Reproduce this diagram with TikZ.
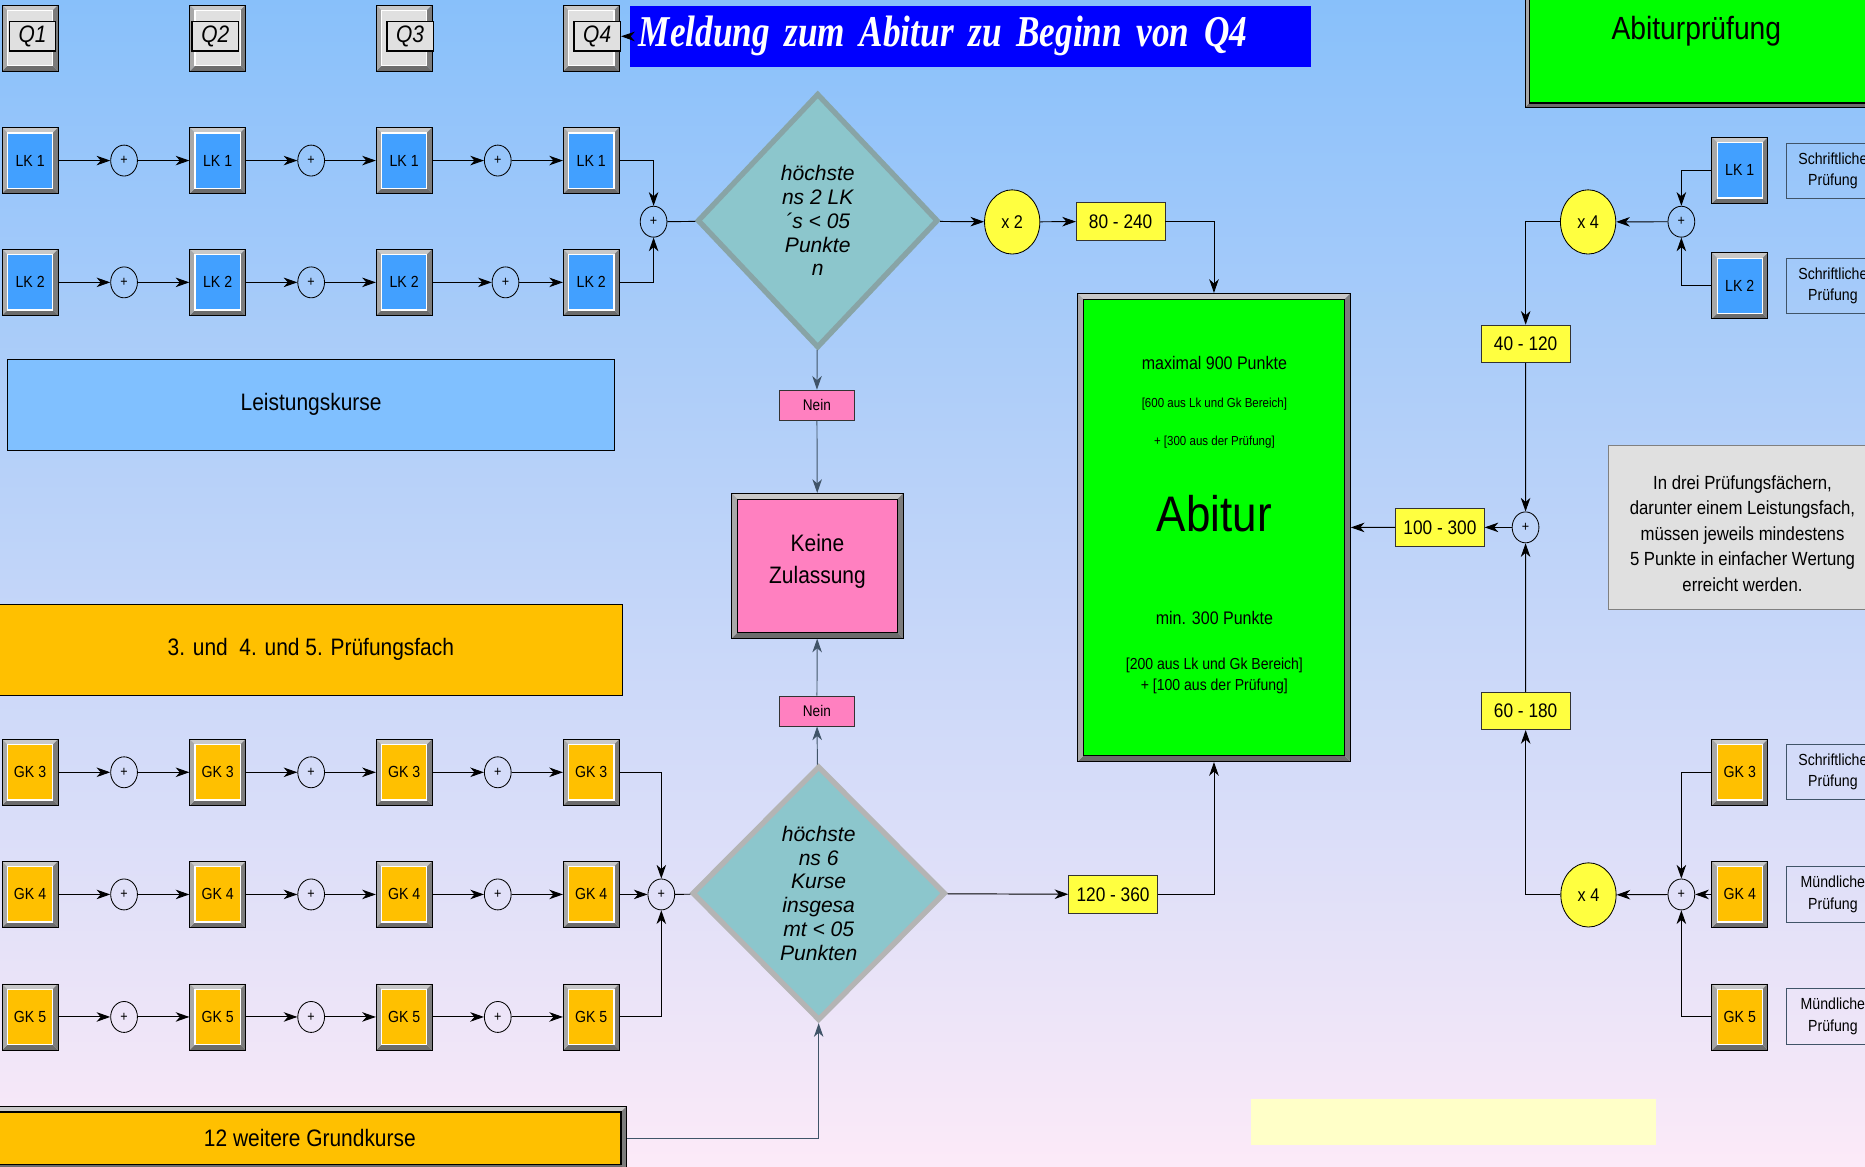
\documentclass[tikz,border=0pt]{standalone}
\usepackage{fontspec}
\setmainfont[FakeStretch=0.88]{Liberation Sans}
\newfontfamily\plainsans{Liberation Sans}
\newfontfamily\titlefont[FakeStretch=0.8]{Liberation Serif}
\usetikzlibrary{shapes.geometric,arrows.meta}

\definecolor{bgtop}{HTML}{88C0FA}
\definecolor{bgmid}{HTML}{BDD3EF}
\definecolor{bgbot}{HTML}{FCEAF8}
\definecolor{lkblue}{HTML}{42A0FF}
\definecolor{gkorange}{HTML}{FFC000}
\definecolor{lkband}{HTML}{80C0FF}
\definecolor{abigreen}{HTML}{00FF00}
\definecolor{pinkbox}{HTML}{FF80C0}
\definecolor{yel}{HTML}{FFFF40}
\definecolor{diamteal}{HTML}{8CC6CC}
\definecolor{diamedgeA}{HTML}{88A4A6}
\definecolor{diamedgeB}{HTML}{B4B4B4}
\definecolor{notegrey}{HTML}{E0E0E0}
\definecolor{paleyel}{HTML}{FFFFC8}
\definecolor{titleblue}{HTML}{0000FF}
\definecolor{bevT}{HTML}{C8C8C8}
\definecolor{bevL}{HTML}{A8A8A8}
\definecolor{bevR}{HTML}{7C7C7C}
\definecolor{bevB}{HTML}{6C6C6C}
\definecolor{qgrey}{HTML}{E0E0E0}
\definecolor{slate}{HTML}{405468}

\tikzset{
  bevel/.style n args={3}{draw=black, line width=0.6pt, inner sep=0pt, path picture={
    \fill[bevT] (path picture bounding box.north west) -- (path picture bounding box.north east)
       -- ([shift={(-#2,-#2)}]path picture bounding box.north east) -- ([shift={(#2,-#2)}]path picture bounding box.north west) -- cycle;
    \fill[bevB] (path picture bounding box.south west) -- (path picture bounding box.south east)
       -- ([shift={(-#2,#2)}]path picture bounding box.south east) -- ([shift={(#2,#2)}]path picture bounding box.south west) -- cycle;
    \fill[bevL] (path picture bounding box.north west) -- ([shift={(#2,-#2)}]path picture bounding box.north west)
       -- ([shift={(#2,#2)}]path picture bounding box.south west) -- (path picture bounding box.south west) -- cycle;
    \fill[bevR] (path picture bounding box.north east) -- ([shift={(-#2,-#2)}]path picture bounding box.north east)
       -- ([shift={(-#2,#2)}]path picture bounding box.south east) -- (path picture bounding box.south east) -- cycle;
    \filldraw[fill=#1, draw=#3, line width=1.1pt] ([shift={(#2,#2)}]path picture bounding box.south west)
       rectangle ([shift={(-#2,-#2)}]path picture bounding box.north east);
  }},
  smallbox/.style={minimum width=47pt, minimum height=55.5pt, font=\fontsize{13.5}{16}\selectfont},
  qlabel/.style={rectangle, draw=black, line width=1.2pt, fill=qgrey, minimum width=39pt, minimum height=25pt, inner sep=0pt, font=\fontsize{20}{22}\selectfont\itshape},
  sumc/.style={ellipse, draw=black, line width=0.7pt, minimum width=22.5pt, minimum height=26pt, inner sep=0pt, font=\fontsize{12}{13}\selectfont},
  mult/.style={ellipse, draw=black, line width=0.7pt, fill=yel, minimum width=46.5pt, minimum height=54pt, inner sep=0pt, font=\fontsize{15.5}{18}\selectfont},
  valbox/.style={rectangle, draw=black!80, line width=0.7pt, fill=yel, minimum width=74.5pt, minimum height=31.3pt, inner sep=0pt, font=\fontsize{16.5}{19}\selectfont},
  nein/.style={rectangle, draw=black!80, line width=0.7pt, fill=pinkbox, minimum width=63.8pt, minimum height=25.3pt, inner sep=0pt, font=\fontsize{13}{15}\selectfont},
  exambox/.style={rectangle, draw=slate, line width=0.7pt, minimum width=78pt, minimum height=46.5pt, inner sep=0pt, align=center, font=\fontsize{13.5}{18}\selectfont},
  band/.style={rectangle, draw=black, line width=0.8pt, inner sep=0pt, font=\fontsize{20}{24}\selectfont},
  diam/.style={diamond, fill=diamteal, line width=4.5pt, inner sep=0pt, align=center, font=\plainsans\fontsize{17.7}{20}\selectfont\itshape},
  arr/.style={-{Stealth[length=11.5pt,width=8pt,inset=3.5pt]}, line width=0.8pt},
  ln/.style={line width=0.8pt},
}

\begin{document}
\begin{tikzpicture}[x=1pt,y=-1pt]
\useasboundingbox (0,0) rectangle (1568,981);
\clip (0,0) rectangle (1568,981);
\shade[top color=bgtop, middle color=bgmid, bottom color=bgbot] (0,0) rectangle (1568,981);

% ---------- Q header ----------
\foreach \i/\x/\dx in {1/25.3/2, 2/183/-2, 3/339.8/5, 4/497.1/5} {
  \node[smallbox, bevel={qgrey}{4.5pt}{white}] (q\i) at (\x,32) {};
  \node[qlabel] (ql\i) at ({\x+(\dx)},30.5) {Q\i};
}

% ---------- title ----------
\node[rectangle, fill=titleblue, minimum width=572.5pt, minimum height=51pt, inner xsep=7pt, inner ysep=0pt,
      text width=558pt, align=left, text=white, font=\titlefont\fontsize{37}{40}\selectfont\bfseries\itshape]
      (title) at (816.05,30.6) {Meldung zum Abitur zu Beginn von Q4};
\draw[arr] (title.west) -- (ql4.east);

% ---------- left course rows ----------
\foreach \r/\y/\col/\lab/\xc in {lk1/135/lkblue/LK 1/418.5, lk2/237.4/lkblue/LK 2/425,
    gk3/649.3/gkorange/GK 3/418.5, gk4/752/gkorange/GK 4/418.5, gk5/855/gkorange/GK 5/418.5} {
  \foreach \c/\x in {1/25.3, 2/183, 3/339.8, 4/497.1}
    \node[smallbox, bevel={\col}{4.5pt}{white}] (\r-\c) at (\x,\y) {\lab};
  \node[sumc] (\r-s1) at (104.3,\y) {+};
  \node[sumc] (\r-s2) at (261.6,\y) {+};
  \node[sumc] (\r-s3) at (\xc,\y) {+};
  \draw[arr] (\r-1) -- (\r-s1);
  \draw[arr] (\r-s1) -- (\r-2);
  \draw[arr] (\r-2) -- (\r-s2);
  \draw[arr] (\r-s2) -- (\r-3);
  \draw[arr] (\r-3) -- (\r-s3);
  \draw[arr] (\r-s3) -- (\r-4);
}

\node[sumc] (sumLK) at (549.5,186.4) {+};
\node[sumc] (sumGK) at (556,752) {+};
\draw[arr] (lk1-4.east) -| (sumLK.north);
\draw[arr] (lk2-4.east) -| (sumLK.south);
\draw[arr] (gk3-4.east) -| (sumGK.north);
\draw[arr] (gk4-4) -- (sumGK);
\draw[arr] (gk5-4.east) -| (sumGK.south);

% ---------- bands ----------
\node[band, fill=lkband, minimum width=510.7pt, minimum height=76.3pt] (lkbandbox) at (261.55,340.25) {Leistungskurse};
\node[band, fill=gkorange, minimum width=524.7pt, minimum height=76.2pt] (pfband) at (261.35,546.2) {3. und\ \ 4. und 5. Prüfungsfach};
\node[bevel={gkorange}{5pt}{black}, minimum width=533pt, minimum height=54pt, font=\fontsize{20}{24}\selectfont] (weitere) at (260.5,957) {12 weitere Grundkurse};

% ---------- diamonds ----------
\node[diam, draw=diamedgeA, minimum width=202.5pt, minimum height=214pt] (d1) at (687.5,185.5)
  {höchste\\ns 2 LK\\´s < 05\\Punkte\\n};
\node[diam, draw=diamedgeB, minimum width=213pt, minimum height=214pt] (d2) at (688.3,751)
  {höchste\\ns 6\\Kurse\\insgesa\\mt < 05\\Punkten};
\draw[ln] (sumLK) -- (d1);
\draw[ln] (sumGK) -- (d2);

% ---------- Nein / Keine Zulassung ----------
\node[nein] (nein1) at (686.8,340.6) {Nein};
\node[nein] (nein2) at (686.8,597.8) {Nein};
\node[bevel={pinkbox}{5pt}{black}, minimum width=144.3pt, minimum height=121.9pt] (keine) at (687.3,475.7) {};
\node[align=center, font=\fontsize{20}{26.6}\selectfont] (keinetext) at (687.3,472) {Keine\\Zulassung};
\draw[arr, draw=slate] (d1) -- (nein1);
\draw[arr, draw=slate] (nein1) -- (keine);
\draw[arr, draw=slate] (d2) -- (nein2);
\draw[arr, draw=slate] (nein2) -- (keine);
\draw[arr, draw=slate] (weitere.east) -| (d2.south);

% ---------- multipliers and values (centre) ----------
\node[mult] (x2) at (851,186.6) {x 2};
\node[valbox] (v80) at (942.2,186.1) {80 - 240};
\node[valbox] (v120) at (935.8,752) {120 - 360};

% ---------- Abitur ----------
\node[bevel={abigreen}{5pt}{black}, minimum width=229.5pt, minimum height=393.8pt] (abitur) at (1020.65,443.5) {};
\node[font=\fontsize{15.3}{18}\selectfont] (abt1) at (1021,305.5) {maximal 900 Punkte};
\node[font=\fontsize{11}{13}\selectfont] (abt2) at (1021,340) {[600 aus Lk und Gk Bereich]};
\node[font=\fontsize{11}{13}\selectfont] (abt3) at (1021,371.3) {+ [300 aus der Prüfung]};
\node[font=\fontsize{42}{46}\selectfont] (abt4) at (1021,431.6) {Abitur};
\node[font=\fontsize{15.3}{18}\selectfont] (abt5) at (1021,519.9) {min. 300 Punkte};
\node[font=\fontsize{13.4}{16}\selectfont] (abt6) at (1021,559.7) {[200 aus Lk und Gk Bereich]};
\node[font=\fontsize{13.4}{16}\selectfont] (abt7) at (1021,577.3) {+ [100 aus der Prüfung]};

\draw[arr] (d1) -- (x2);
\draw[arr] (x2) -- (v80);
\draw[arr] (v80.east) -| (abitur.north);
\draw[arr] (d2) -- (v120);
\draw[arr] (v120.east) -| (abitur.south);

% ---------- Abiturprüfung ----------
\node[bevel={abigreen}{3.5pt}{black}, minimum width=297.7pt, minimum height=100.2pt] (abipbox) at (1431.15,40.1) {};
\node[font=\fontsize{27}{30}\selectfont] (abiptext) at (1426.2,26.6) {Abiturprüfung};

% ---------- right side ----------
\node[smallbox, bevel={lkblue}{4.5pt}{white}] (rlk1) at (1462.7,143.2) {LK 1};
\node[smallbox, bevel={lkblue}{4.5pt}{white}] (rlk2) at (1462.7,240.3) {LK 2};
\node[smallbox, bevel={gkorange}{4.5pt}{white}] (rgk3) at (1462.7,649.3) {GK 3};
\node[smallbox, bevel={gkorange}{4.5pt}{white}] (rgk4) at (1462.7,752) {GK 4};
\node[smallbox, bevel={gkorange}{4.5pt}{white}] (rgk5) at (1462.7,855) {GK 5};

\node[exambox] (e1) at (1541,143.6) {Schriftliche\\Prüfung};
\node[exambox] (e2) at (1541,240.3) {Schriftliche\\Prüfung};
\node[exambox] (e3) at (1541,649) {Schriftliche\\Prüfung};
\node[exambox] (e4) at (1541,752) {Mündliche\\Prüfung};
\node[exambox] (e5) at (1541,854.6) {Mündliche\\Prüfung};

\node[sumc] (sumR1) at (1413.6,186.4) {+};
\node[sumc] (sumR2) at (1413.6,752) {+};
\node[sumc] (sumMid) at (1282.6,443.4) {+};
\node[mult] (x4a) at (1335.2,186.6) {x 4};
\node[mult] (x4b) at (1335.5,752.4) {x 4};
\node[valbox] (v40) at (1282.7,289) {40 - 120};
\node[valbox] (v60) at (1282.7,597.8) {60 - 180};
\node[valbox] (v100) at (1210.6,443.4) {100 - 300};

\draw[arr] (rlk1.west) -| (sumR1.north);
\draw[arr] (rlk2.west) -| (sumR1.south);
\draw[arr] (sumR1) -- (x4a);
\draw[arr] (x4a.west) -| (v40.north);
\draw[arr] (v40) -- (sumMid);
\draw[arr] (v60) -- (sumMid);
\draw[arr] (sumMid) -- (v100);
\draw[arr] (v100) -- (abitur);
\draw[arr] (rgk3.west) -| (sumR2.north);
\draw[arr] (rgk4) -- (sumR2);
\draw[arr] (rgk5.west) -| (sumR2.south);
\draw[arr] (sumR2) -- (x4b);
\draw[arr] (x4b.west) -| (v60.south);

% ---------- note ----------
\node[rectangle, fill=notegrey, draw=black!50, line width=1pt, minimum width=227.4pt, minimum height=137.6pt] (notebox) at (1466.3,443.5) {};
\node[align=center, font=\fontsize{16}{21.4}\selectfont] (notetext) at (1465,448.6)
  {In drei Prüfungsfächern,\\darunter einem Leistungsfach,\\müssen jeweils mindestens\\5 Punkte in einfacher Wertung\\erreicht werden.};

% ---------- pale yellow field ----------
\node[rectangle, fill=paleyel, minimum width=340.5pt, minimum height=38.7pt, inner sep=0pt] (paleyelbox) at (1222.05,943.35) {};

\end{tikzpicture}
\end{document}
